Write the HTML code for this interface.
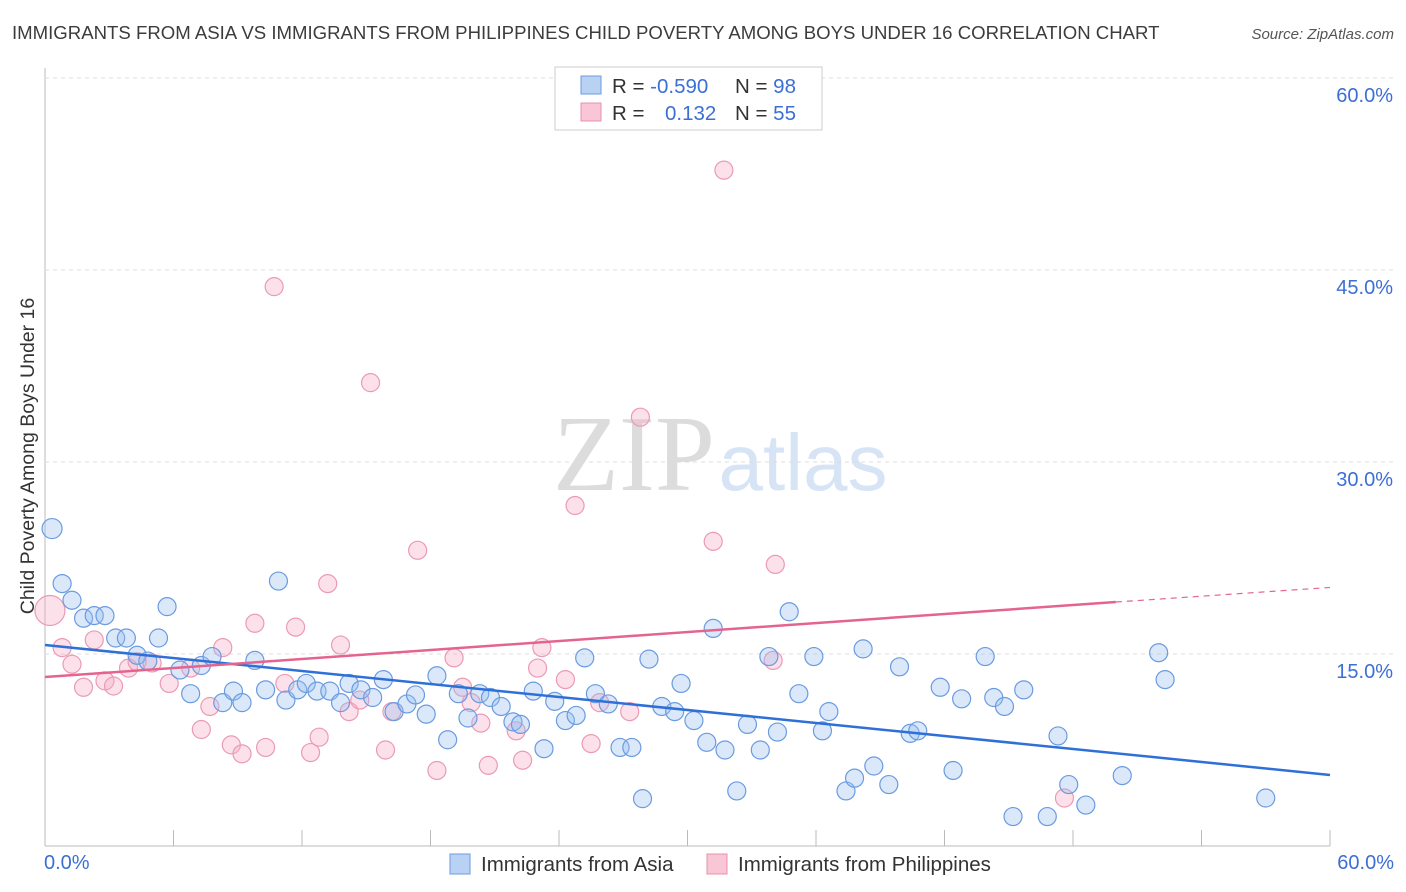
<!DOCTYPE html>
<html><head><meta charset="utf-8"><style>
body{margin:0;background:#fff;font-family:"Liberation Sans",sans-serif;}
#wrap{position:relative;width:1406px;height:892px;overflow:hidden}
</style></head><body><div id="wrap">
<svg id="svg" width="1406" height="892" xmlns="http://www.w3.org/2000/svg">
<text x="12" y="39" font-size="18.6" fill="#3c3c3c">IMMIGRANTS FROM ASIA VS IMMIGRANTS FROM PHILIPPINES CHILD POVERTY AMONG BOYS UNDER 16 CORRELATION CHART</text>
<text x="1394" y="39" font-size="15" font-style="italic" fill="#555" text-anchor="end">Source: ZipAtlas.com</text>
<text x="634" y="490" font-size="108" font-family="Liberation Serif,serif" fill="#dcdcdc" text-anchor="middle">ZIP</text>
<text x="803" y="490" font-size="80" fill="#d6e4f5" text-anchor="middle">atlas</text>
<text transform="translate(34,456) rotate(-90)" font-size="19.5" fill="#333" text-anchor="middle">Child Poverty Among Boys Under 16</text>
<g id="grid"></g><g id="pts"></g><g id="lines"></g>
<g>
<rect x="555" y="67" width="267" height="63" fill="#fff" stroke="#ccc"/>
<rect x="581" y="76" width="20" height="18" fill="#b9d2f3" stroke="#6a9be0"/>
<rect x="581" y="103" width="20" height="18" fill="#f8c6d5" stroke="#e890ae"/>
<text x="612" y="93" font-size="20.5" fill="#333">R = <tspan fill="#3b6fd4">-0.590</tspan></text>
<text x="735" y="93" font-size="20.5" fill="#333">N = <tspan fill="#3b6fd4">98</tspan></text>
<text x="612" y="120" font-size="20.5" fill="#333">R = </text><text x="665" y="120" font-size="20.5" fill="#3b6fd4">0.132</text>
<text x="735" y="120" font-size="20.5" fill="#333">N = <tspan fill="#3b6fd4">55</tspan></text>
</g>
<g>
<rect x="450" y="854" width="20" height="20" fill="#b9d2f3" stroke="#6a9be0"/>
<text x="481" y="871" font-size="20.5" fill="#333">Immigrants from Asia</text>
<rect x="707" y="854" width="20" height="20" fill="#f8c6d5" stroke="#e890ae"/>
<text x="738" y="871" font-size="20.5" fill="#333">Immigrants from Philippines</text>
</g>
<text x="44" y="869" font-size="20" fill="#3b6fd4">0.0%</text>
<text x="1394" y="869" font-size="20" fill="#3b6fd4" text-anchor="end">60.0%</text>
</svg>
<script>
const yTicks=[15,30,45,60];
const yTickLabels=["15.0%","30.0%","45.0%","60.0%"];
const asiaX=[0.33,0.8,1.26,1.8,2.3,2.8,3.3,3.8,5.3,5.7,4.3,4.8,6.3,6.8,7.3,7.8,8.3,8.8,9.2,9.8,10.3,10.9,11.25,11.8,12.2,12.7,13.3,13.8,14.2,14.75,15.3,15.8,16.3,16.9,17.3,17.8,18.3,18.8,19.3,19.75,20.3,20.8,21.3,21.85,22.2,22.8,23.3,23.8,24.3,24.8,25.2,25.7,26.3,26.85,27.4,27.9,28.2,28.8,29.4,29.7,30.3,30.9,31.2,31.75,32.3,32.8,33.4,33.8,34.2,34.75,35.2,35.9,36.3,36.6,37.4,37.8,38.2,38.7,39.4,39.9,40.4,40.75,41.8,42.4,42.8,43.9,44.3,44.8,45.2,45.7,46.8,47.3,47.8,48.6,50.3,52.0,52.3,57.0];
const asiaY=[24.8,20.5,19.2,17.8,18.0,18.0,16.25,16.25,16.25,18.7,14.9,14.45,13.75,11.9,14.1,14.8,11.2,12.1,11.2,14.5,12.2,20.7,11.4,12.2,12.7,12.1,12.1,11.2,12.7,12.2,11.6,13.0,10.5,11.1,11.8,10.3,13.3,8.3,11.9,10.0,11.9,11.6,10.9,9.7,9.5,12.1,7.6,11.3,9.8,10.2,14.7,11.9,11.1,7.7,7.7,3.7,14.6,10.9,10.5,12.7,9.8,8.1,17.0,7.5,4.3,9.5,7.5,14.8,8.9,18.3,11.9,14.8,9.0,10.5,4.3,5.3,15.4,6.25,4.8,14.0,8.8,9.0,12.4,5.9,11.5,14.8,11.6,10.9,2.3,12.2,2.3,8.6,4.8,3.2,5.5,15.1,13.0,3.75];
const phX=[0.23,0.8,1.26,1.8,2.3,2.8,3.2,3.9,4.3,5.0,5.8,6.8,7.3,7.7,8.3,8.7,9.2,9.8,10.3,10.7,11.2,11.7,12.4,12.8,13.2,13.8,14.2,14.7,15.2,15.9,16.2,17.4,18.3,19.1,19.5,19.9,20.35,20.7,22.0,22.3,23.0,23.2,24.3,24.75,25.5,25.9,27.3,27.8,31.2,31.7,34.0,34.1,47.6];
const phY=[18.4,15.5,14.2,12.4,16.1,12.9,12.5,13.9,14.4,14.3,12.7,13.9,9.1,10.9,15.5,7.9,7.2,17.4,7.7,43.7,12.7,17.1,7.3,8.5,20.5,15.7,10.5,11.4,36.2,7.5,10.5,23.1,5.9,14.7,12.4,11.2,9.6,6.3,9.0,6.7,13.9,15.5,13.0,26.6,8.0,11.2,10.5,33.5,23.8,52.8,14.5,22.0,3.75];
const asiaTrend=[[0,15.7],[60,5.55]];
const phTrend=[[0,13.2],[50,19.06],[60,20.2]];
const NS="http://www.w3.org/2000/svg";
const sx=v=>45+v*1285/60, sy=v=>846-v*12.8;
function mk(t,a,p){const e=document.createElementNS(NS,t);for(const k in a)e.setAttribute(k,a[k]);p.appendChild(e);return e;}
const grid=document.getElementById('grid');
mk('line',{x1:45,y1:68,x2:45,y2:846,stroke:'#bbb'},grid);
mk('line',{x1:45,y1:846,x2:1330,y2:846,stroke:'#bbb'},grid);
for(let i=1;i<=10;i++){const x=sx(i*6);mk('line',{x1:x,y1:830,x2:x,y2:846,stroke:'#bbb'},grid);}
yTicks.forEach((v,i)=>{
 const g=mk('line',{x1:45,y1:sy(v),x2:1394,y2:sy(v),stroke:'#ddd','stroke-dasharray':'4,4'},grid);
 
 
 const t=mk('text',{x:1393,y:sy(v)+24,'font-size':20,fill:'#3b6fd4','text-anchor':'end'},grid);
 t.textContent=yTickLabels[i];
 
 
});
const pts=document.getElementById('pts');
phX.forEach((x,i)=>{
 const c=mk('circle',{cx:sx(x),cy:sy(phY[i]),r:i==0?15:9,fill:'rgba(245,170,195,0.35)',stroke:'#eb9ab5','stroke-width':1.2},pts);
 
 
});
asiaX.forEach((x,i)=>{
 const c=mk('circle',{cx:sx(x),cy:sy(asiaY[i]),r:i==0?10:9,fill:'rgba(150,190,240,0.35)',stroke:'#6a9be0','stroke-width':1.2},pts);
 
 
});
const lines=document.getElementById('lines');
const bl=mk('line',{x1:sx(asiaTrend[0][0]),y1:sy(asiaTrend[0][1]),x2:sx(asiaTrend[1][0]),y2:sy(asiaTrend[1][1]),stroke:'#2f6fd8','stroke-width':2.5},lines);


const pl=mk('line',{x1:sx(phTrend[0][0]),y1:sy(phTrend[0][1]),x2:sx(phTrend[1][0]),y2:sy(phTrend[1][1]),stroke:'#e4648f','stroke-width':2.5},lines);


const pd=mk('line',{x1:sx(phTrend[1][0]),y1:sy(phTrend[1][1]),x2:sx(phTrend[2][0]),y2:sy(phTrend[2][1]),stroke:'#e4648f','stroke-width':1.2,'stroke-dasharray':'6,5'},lines);


</script>
</div></body></html>
